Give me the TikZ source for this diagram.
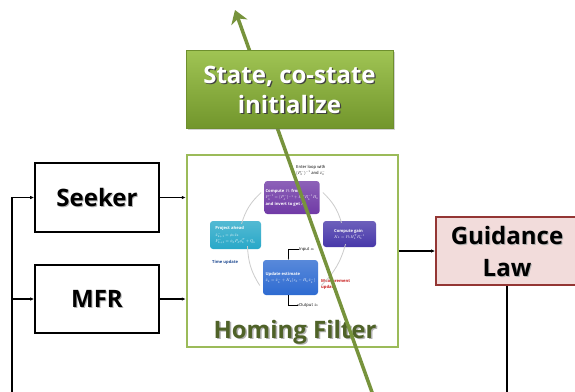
\documentclass[tikz,border=0pt]{standalone}
\usepackage{fontspec}
\usepackage{graphicx}
\setmainfont{Open Sans}
\usetikzlibrary{arrows.meta,shadows}
\definecolor{filtgreen}{RGB}{155,187,89}
\definecolor{hfgreen}{RGB}{79,98,40}
\definecolor{arrgreen}{RGB}{119,147,60}
\definecolor{sttop}{RGB}{160,196,84}
\definecolor{stbot}{RGB}{114,150,44}
\definecolor{stborder}{RGB}{110,143,46}
\definecolor{guidfill}{RGB}{242,220,219}
\definecolor{guiddraw}{RGB}{148,54,52}
\definecolor{kpurple}{RGB}{112,58,166}
\definecolor{kindigo}{RGB}{72,56,170}
\definecolor{kteal}{RGB}{40,168,200}
\definecolor{kblue}{RGB}{46,107,209}
\definecolor{kred}{RGB}{200,30,30}
\newcommand\tinytxt[1]{\scalebox{0.46}{\fontsize{9}{12}\selectfont\renewcommand\arraystretch{1.15}\begin{tabular}{@{}l@{}}#1\end{tabular}}}
\begin{document}
\begin{tikzpicture}[x=1pt,y=-1pt,
  blk/.style={draw=black,line width=1.6pt,fill=white,inner sep=0pt},
  bigtxt/.style={font=\fontsize{24}{30}\selectfont\bfseries,align=center,inner sep=0pt},
  shtxt/.style={bigtxt,text=black!30},
  conn/.style={line width=1.3pt,-{Latex[length=4pt,width=3.5pt]}},
  kbox/.style={rounded corners=3pt,inner sep=1.2pt,text=white,align=left},
  ktxt/.style={inner sep=0pt,align=left},
  karc/.style={draw=black!20,line width=0.8pt},
  kconn/.style={line width=0.4pt,-{Latex[length=1.5pt,width=1.5pt]}}
]
\useasboundingbox (0,0) rectangle (575,391);
\fill[white] (0,0) rectangle (575,391);

% Homing filter frame
\node[draw=filtgreen,line width=2.5pt,fill=white,minimum width=211pt,minimum height=192pt,inner sep=0pt] (filt) at (292.5,251) {};

% inner Kalman loop
\node[kbox,top color=kpurple!80,bottom color=kpurple,minimum width=50pt,minimum height=33pt] (kp) at (292,197.5)
  {\tinytxt{\bfseries Compute $P_k$ from\\ $P_k^{-1}=(P_k^-)^{-1}+H_k^TR_k^{-1}H_k$\\ \bfseries and invert to get $P_k$}};
\node[kbox,top color=kindigo!80,bottom color=kindigo,minimum width=53pt,minimum height=26pt] (kg) at (349.5,234)
  {\tinytxt{\bfseries Compute gain\\ $K_k=P_kH_k^TR_k^{-1}$}};
\node[kbox,top color=kteal!80,bottom color=kteal,minimum width=51pt,minimum height=28pt] (kt) at (235.5,235)
  {\tinytxt{\bfseries Project ahead\\ $\hat x_{k+1}^-=\phi_k\hat x_k$\\ $P_{k+1}^-=\phi_kP_k\phi_k^T+Q_k$}};
\node[kbox,top color=kblue!80,bottom color=kblue,minimum width=55pt,minimum height=35pt] (ku) at (290.5,277.5)
  {\tinytxt{\bfseries Update estimate\\ $\hat x_k=\hat x_k^-+K_k(z_k-H_k\hat x_k^-)$}};
\node[ktxt,anchor=west] (kenter) at (296,170) {\tinytxt{Enter loop with\\ $(P_0^-)^{-1}$ and $\hat x_0^-$}};
\node[ktxt,anchor=north west,text=kblue!70!black] (ktime) at (212,259) {\tinytxt{\bfseries Time update}};
\node[ktxt,anchor=west,text=kred] (kmeas) at (321,284) {\tinytxt{\bfseries Measurement\\ \bfseries update}};
\node[ktxt,anchor=west] (kin) at (299,249) {\tinytxt{Input $z_k$}};
\node[ktxt,anchor=west] (kout) at (299,305) {\tinytxt{Output $\hat x_k$}};
\draw[karc] ([xshift=6pt,yshift=-3pt]kt.north) to[bend left=15] ([xshift=-3pt,yshift=5pt]kp.west);
\draw[karc] ([xshift=3pt,yshift=5pt]kp.east) to[bend left=15] ([xshift=-8pt,yshift=-2pt]kg.north);
\draw[karc] ([xshift=-4pt,yshift=3pt]kg.south) to[bend left=15] ([xshift=3pt,yshift=-8pt]ku.east);
\draw[karc] ([xshift=-3pt,yshift=-8pt]ku.west) to[bend left=15] ([xshift=12pt,yshift=3pt]kt.south);
\draw[kconn] (kin.west) -| ([xshift=-2pt]ku.north);
\draw[kconn] ([xshift=-2pt]ku.south) |- (kout.west);
\node[bigtxt,text=black!30] at (296.5,333.5) {Homing Filter};
\node[bigtxt,text=hfgreen] (hf) at (295,332) {Homing Filter};

% green arrow
\coordinate (gs) at (373,395);
\coordinate (ge) at (235,10);
\draw[arrgreen,line width=3.5pt,-{Stealth[length=13pt,width=17pt,inset=4pt]}] (gs) -- (ge);

% state box
\node[draw=stborder,line width=1pt,top color=sttop,bottom color=stbot,minimum width=207pt,minimum height=78pt,inner sep=0pt,
  drop shadow={opacity=0.35,shadow xshift=1.5pt,shadow yshift=-2pt}] (st) at (289.5,89) {};
\node[bigtxt,text=black!75] at (290.8,91.3) {State, co-state\\initialize};
\node[bigtxt,text=white] at (289.5,90) {State, co-state\\initialize};

% sensor boxes
\node[blk,minimum width=124pt,minimum height=69pt] (seek) at (97,197.5) {};
\node[shtxt] at (98,198.8) {Seeker};
\node[bigtxt] at (seek.center) {Seeker};
\node[blk,minimum width=124pt,minimum height=68pt] (mfr) at (97,299) {};
\node[shtxt] at (98,300.3) {MFR};
\node[bigtxt] at (mfr.center) {MFR};

% guidance law
\node[draw=guiddraw,line width=1.8pt,fill=guidfill,minimum width=142pt,minimum height=68pt,inner sep=0pt] (guid) at (507,251) {};
\node[shtxt,font=\fontsize{24}{32}\selectfont\bfseries] at (508,252.3) {Guidance\\Law};
\node[bigtxt,font=\fontsize{24}{32}\selectfont\bfseries] at (507,251) {Guidance\\Law};

% connectors
\coordinate (lb) at (12,395);
\coordinate (lj) at (12,299);
\coordinate (gb) at (507,395);
\draw[conn] (lb) |- (seek.west);
\draw[conn] (lj) -- (mfr.west);
\draw[conn] (seek.east) -- (seek.east -| filt.west);
\draw[conn] (mfr.east) -- (mfr.east -| filt.west);
\draw[conn] (filt.east) -- (guid.west);
\draw[line width=1.3pt] (guid.south) -- (gb);
\end{tikzpicture}
\end{document}
